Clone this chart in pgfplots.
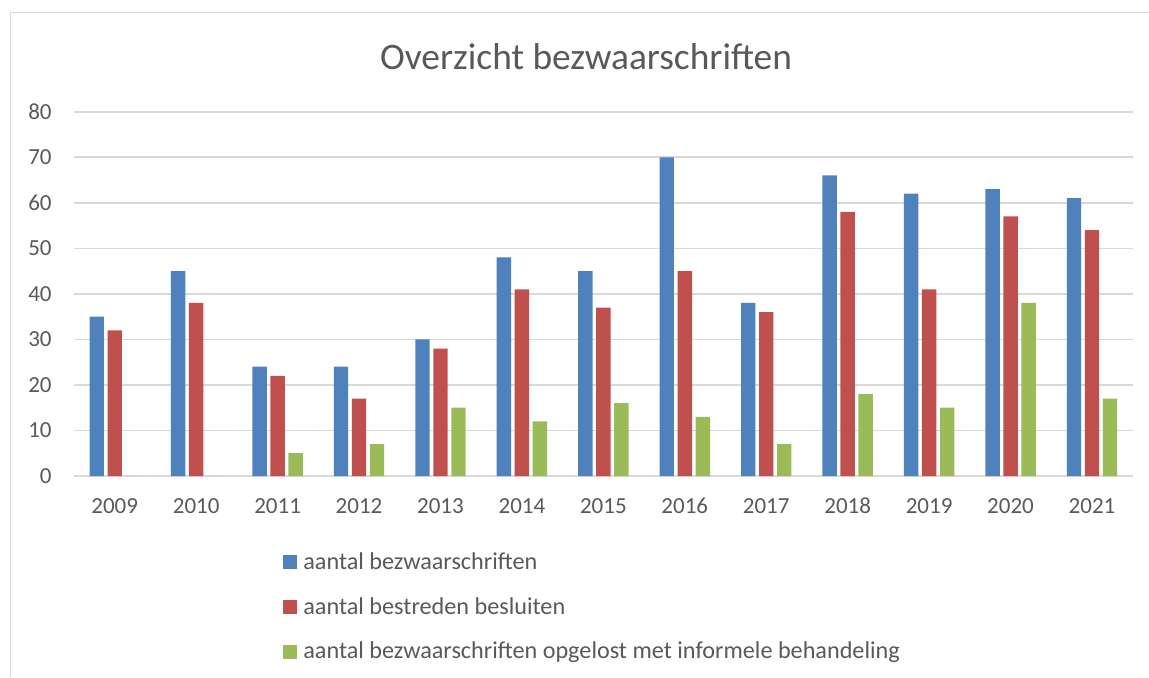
\documentclass[border=0pt]{standalone}
\usepackage{pgfplots}
\pgfplotsset{compat=1.18}
\usepackage{fontspec}
\setmainfont{Carlito}
\definecolor{cblue}{HTML}{4F81BD}
\definecolor{cred}{HTML}{C0504D}
\definecolor{cgreen}{HTML}{9BBB59}
\definecolor{txt}{HTML}{595959}
\definecolor{gridc}{HTML}{D9D9D9}
\begin{document}
\begin{tikzpicture}
\useasboundingbox (0pt,0pt) rectangle (574.5pt,338.5pt);
\draw[gridc,line width=0.5pt] (5pt,0pt) -- (5pt,332.5pt) -- (574.5pt,332.5pt);
\node[txt,font=\fontsize{18.7}{21}\selectfont] at (293pt,310pt) {Overzicht bezwaarschriften};
\begin{axis}[
  at={(37pt,100.5pt)}, anchor=south west,
  scale only axis, width=529.35pt, height=182.15pt,
  ybar=1.8pt, bar width=7.2pt,
  xmin=-0.5, xmax=12.5, ymin=0, ymax=80,
  ytick={0,10,...,80},
  xtick={0,...,12},
  xticklabels={2009,2010,2011,2012,2013,2014,2015,2016,2017,2018,2019,2020,2021},
  /pgf/number format/assume math mode=true,
  axis line style={draw=none},
  major tick length=0pt,
  ymajorgrids, grid style={gridc, line width=0.8pt},
  tick label style={txt, font=\fontsize{11.5}{13}\selectfont, inner sep=0pt},
  xticklabel style={anchor=base, yshift=-18.6pt},
  yticklabel style={anchor=east, xshift=-11pt},
  legend cell align=left,
  legend style={draw=none, fill=none, at={(axis description cs:0.197,-0.198)}, anchor=north west,
    font=\fontsize{12.1}{13.5}\selectfont, text=txt, row sep=8.5pt, inner sep=0pt,
    /tikz/every odd column/.append style={column sep=1.2pt}},
  legend image code/.code={\fill[#1] (0pt,-3.5pt) rectangle (7pt,3.5pt);},
]
\addplot[fill=cblue, draw=none] coordinates {(0,35) (1,45) (2,24) (3,24) (4,30) (5,48) (6,45) (7,70) (8,38) (9,66) (10,62) (11,63) (12,61)};
\addplot[fill=cred, draw=none] coordinates {(0,32) (1,38) (2,22) (3,17) (4,28) (5,41) (6,37) (7,45) (8,36) (9,58) (10,41) (11,57) (12,54)};
\addplot[fill=cgreen, draw=none] coordinates {(0,0) (1,0) (2,5) (3,7) (4,15) (5,12) (6,16) (7,13) (8,7) (9,18) (10,15) (11,38) (12,17)};
\legend{aantal bezwaarschriften, aantal bestreden besluiten, aantal bezwaarschriften opgelost met informele behandeling}
\end{axis}
\end{tikzpicture}
\end{document}
